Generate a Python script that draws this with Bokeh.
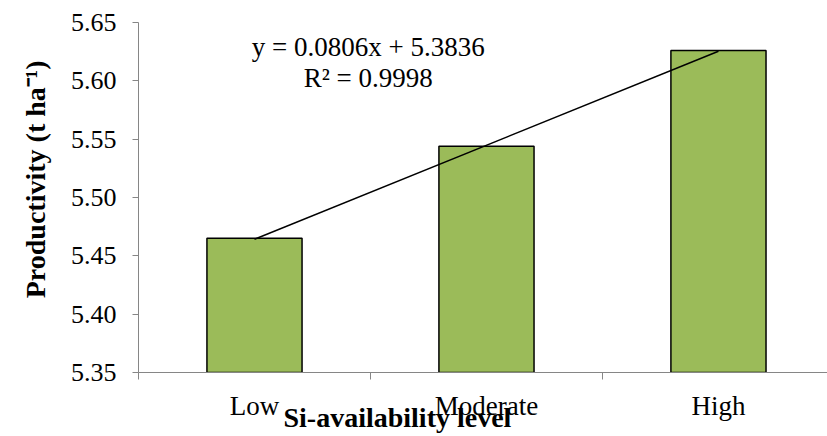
from bokeh.plotting import figure
from bokeh.models import Range1d, FixedTicker, Label, Title
from bokeh.embed import file_html
from bokeh.resources import INLINE

categories = ["Low", "Moderate", "High"]
productivity = [5.465, 5.544, 5.626]
slope = 0.0806
intercept = 5.3836
r2 = 0.9998
y_ticks = [5.35, 5.40, 5.45, 5.50, 5.55, 5.60, 5.65]

FONT = "Liberation Serif"
AXIS_COL = "#868686"

xs = [i + 0.5 for i in range(len(categories))]

p = figure(width=827, height=436, output_backend="svg", toolbar_location=None,
           x_range=Range1d(0, 2.97), y_range=Range1d(5.35, 5.65),
           min_border_left=138, min_border_right=0, min_border_top=22, min_border_bottom=64)
p.outline_line_color = None
p.xgrid.visible = False
p.ygrid.visible = False

p.vbar(x=xs, top=productivity, bottom=5.35, width=0.41,
       fill_color="#9BBB59", line_color="black", line_width=1.5)

trend = [slope * (i + 1) + intercept for i in range(len(categories))]
p.line(x=[xs[0], xs[-1]], y=[trend[0], trend[-1]], line_color="black", line_width=1.5)

# y axis
p.yaxis.ticker = FixedTicker(ticks=y_ticks)
p.yaxis.major_label_overrides = {t: f"{t:.2f}" for t in y_ticks}
p.yaxis.axis_line_color = AXIS_COL
p.yaxis.major_tick_line_color = AXIS_COL
p.yaxis.major_tick_in = 0
p.yaxis.major_tick_out = 6
p.yaxis.minor_tick_line_color = None
p.yaxis.major_label_text_font = FONT
p.yaxis.major_label_text_font_size = "26px"
p.yaxis.major_label_text_color = "black"
p.yaxis.major_label_standoff = 16

# x axis
p.xaxis.ticker = FixedTicker(ticks=xs, minor_ticks=[0, 1, 2, 3])
p.xaxis.major_label_overrides = {x: c for x, c in zip(xs, categories)}
p.xaxis.axis_line_color = AXIS_COL
p.xaxis.major_tick_line_color = None
p.xaxis.major_tick_in = 0
p.xaxis.major_tick_out = 0
p.xaxis.minor_tick_line_color = AXIS_COL
p.xaxis.minor_tick_in = 0
p.xaxis.minor_tick_out = 7
p.xaxis.major_label_text_font = FONT
p.xaxis.major_label_text_font_size = "27px"
p.xaxis.major_label_text_color = "black"
p.xaxis.major_label_standoff = 11

# axis titles as side titles (so they can be offset like in the source)
p.add_layout(Title(text="Si-availability level", align="left", offset=145,
                   vertical_align="top", standoff=-44, text_font=FONT,
                   text_font_size="28px", text_font_style="bold",
                   text_color="black"), "below")
p.add_layout(Title(text="Productivity (t ha\u207b\u00b9)", align="right", offset=38,
                   standoff=33, text_font=FONT, text_font_size="28px",
                   text_font_style="bold", text_color="black"), "left")

# regression equation
p.add_layout(Label(x=0.99, y=5.6286, text=f"y = {slope}x + {intercept}",
                   text_font=FONT, text_font_size="27px", text_color="black",
                   text_align="center", text_baseline="middle"))
p.add_layout(Label(x=0.99, y=5.6286, y_offset=-31, text=f"R\u00b2 = {r2}",
                   text_font=FONT, text_font_size="27px", text_color="black",
                   text_align="center", text_baseline="middle"))

open("out.html", "w").write(file_html(p, INLINE))
